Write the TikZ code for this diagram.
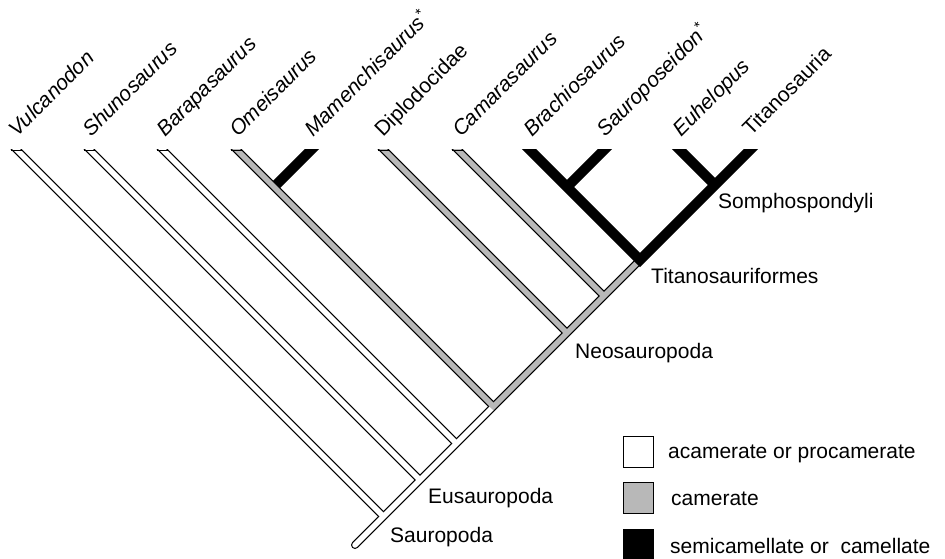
\documentclass[tikz,border=0pt]{standalone}
\usepackage{fontspec}
\setmainfont{Liberation Sans}
\definecolor{camgray}{gray}{0.72}
\begin{document}
\begin{tikzpicture}[x=1pt,y=-1pt,
  lbl/.style={anchor=base west, inner sep=0pt, rotate=45, font=\fontsize{21}{25}\selectfont},
  clab/.style={anchor=base west, inner sep=0pt, font=\fontsize{21}{25}\selectfont},
  outerline/.style={line width=8pt, black},
  innerw/.style={line width=5.6pt, white},
  innerg/.style={line width=5.6pt, camgray},
  blk/.style={line width=10pt, black},
  ext/.style={shorten <=-10pt},
  tipcap/.style={line width=1.2pt, black},
  keybox/.style={draw, line width=1pt, minimum width=30pt, minimum height=31pt, inner sep=0pt},
]
\useasboundingbox (0,0) rectangle (945,559);
% tips
\coordinate (tV) at (17,150);
\coordinate (tS) at (90,150);
\coordinate (tB) at (163,150);
\coordinate (tO) at (237,150);
\coordinate (tM) at (311,150);
\coordinate (tD) at (384,150);
\coordinate (tC) at (458,150);
\coordinate (tBr) at (530,150);
\coordinate (tSp) at (604,150);
\coordinate (tE) at (680,150);
\coordinate (tT) at (750,150);
% junctions
\coordinate (r) at (355,545);
\coordinate (jV) at (383.5,516.5);
\coordinate (jS) at (420,480);
\coordinate (jB) at (456.5,443.5);
\coordinate (jO) at (493.5,406.5);
\coordinate (jOg) at (491.5,408.5);
\coordinate (jD) at (567,333);
\coordinate (jC) at (604,296);
\coordinate (nT) at (640,260);
\coordinate (jM) at (274,187);
\coordinate (jSp) at (567,187);
\coordinate (jE) at (715,185);

\begin{scope}
\clip (0,150) rectangle (945,559);
% pass 0
\draw[blk, ext] (tM) -- (jM);
% pass 1: outlines
\draw[outerline, line cap=round] (r) -- (nT);
\foreach \t/\j in {tV/jV, tS/jS, tB/jB, tO/jO, tD/jD, tC/jC}
  \draw[outerline, ext] (\t) -- (\j);
% pass 2: fills
\draw[innerw, line cap=round] (r) -- (jOg);
\foreach \t/\j in {tV/jV, tS/jS, tB/jB}
  \draw[innerw, ext] (\t) -- (\j);
\draw[innerg] (jOg) -- (nT);
\foreach \t/\j in {tO/jO, tD/jD, tC/jC}
  \draw[innerg, ext] (\t) -- (\j);
% pass 3: black clade
\draw[blk, ext] (tSp) -- (jSp);
\draw[blk, ext] (tE) -- (jE);
\draw[blk, line join=miter, shorten <=-10pt, shorten >=-10pt] (tBr) -- (nT) -- (tT);
\end{scope}
% tip closing edges
\foreach \t in {tV,tS,tB,tO,tD,tC}
  \draw[tipcap] ([xshift=-5.66pt,yshift=-0.6pt]\t) -- ([xshift=5.66pt,yshift=-0.6pt]\t);

% taxon labels
\node[lbl] (lV) at ([xshift=0pt,yshift=12pt]tV) {\itshape Vulcanodon};
\node[lbl] (lS) at ([xshift=1pt,yshift=12pt]tS) {\itshape Shunosaurus};
\node[lbl] (lB) at ([xshift=2pt,yshift=12pt]tB) {\itshape Barapasaurus};
\node[lbl] (lO) at ([xshift=1pt,yshift=12pt]tO) {\itshape Omeisaurus};
\node[lbl] (lM) at ([xshift=2pt,yshift=12pt]tM) {\itshape Mamenchisaurus\textsuperscript{*}};
\node[lbl] (lD) at ([xshift=-1pt,yshift=12pt]tD) {Diplodocidae};
\node[lbl] (lC) at ([xshift=3pt,yshift=12pt]tC) {\itshape Camarasaurus};
\node[lbl] (lBr) at ([xshift=2pt,yshift=12pt]tBr) {\itshape Brachiosaurus};
\node[lbl] (lSp) at ([xshift=1pt,yshift=12pt]tSp) {\itshape Sauroposeidon\textsuperscript{*}};
\node[lbl] (lE) at ([xshift=1pt,yshift=12pt]tE) {\itshape Euhelopus};
\node[lbl] (lT) at ([xshift=1pt,yshift=13pt]tT) {Titanosauria};

% clade labels
\node[clab] (cSo) at (718,208) {Somphospondyli};
\node[clab] (cTi) at (651,283) {Titanosauriformes};
\node[clab] (cNe) at (575,358) {Neosauropoda};
\node[clab] (cEu) at (428,503) {Eusauropoda};
\node[clab] (cSa) at (390,542) {Sauropoda};

% legend
\node[keybox, fill=white] (k1) at (638,451.5) {};
\node[keybox, fill=camgray] (k2) at (638,498) {};
\node[keybox, fill=black] (k3) at (638,545) {};
\node[clab] (g1) at (668,458) {acamerate or procamerate};
\node[clab] (g2) at (671,505) {camerate};
\node[clab] (g3) at (670,553) {semicamellate or\ \ camellate};
\end{tikzpicture}
\end{document}
